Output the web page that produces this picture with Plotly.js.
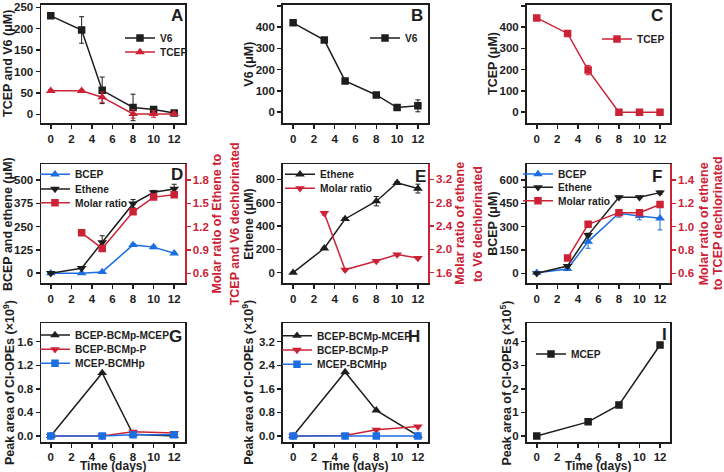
<!DOCTYPE html>
<html>
<head>
<meta charset="utf-8">
<script src="https://cdn.plot.ly/plotly-3.0.1.min.js"></script>
<style>
  html, body { margin: 0; padding: 0; background: #fff; }
  #chart { width: 724px; height: 472px; }
</style>
</head>
<body>
<div id="chart"></div>
<script>
// ---- sampling days ----
const daysAll = [0, 3, 5, 8, 10, 12];
const daysRatio = [3, 5, 8, 10, 12];
const daysOpe = [0, 5, 8, 12];
const dayTicks = [0, 2, 4, 6, 8, 10, 12];

// ---- A: TCEP + V6 co-culture (µM) ----
const aV6 = [230, 197, 56, 16, 11, 3];
const aV6Err = [4, 31, 31, 31, 6, 4];
const aTCEP = [55, 55, 40, 1, 1, 1];
const aTCEPErr = [3, 3, 12, 10, 8, 4];

// ---- B: V6 alone (µM) ----
const bV6 = [420, 339, 147, 81, 22, 30];
const bV6Err = [8, 8, 10, 10, 12, 28];

// ---- C: TCEP alone (µM) ----
const cTCEP = [443, 370, 198, 0, 0, 0];
const cTCEPErr = [10, 8, 22, 3, 3, 3];

// ---- D: products of the co-culture ----
const dBCEP = [0, 0, 7, 152, 140, 107];
const dBCEPErr = [3, 3, 3, 8, 8, 6];
const dEthene = [0, 27, 166, 373, 434, 452];
const dEtheneErr = [5, 5, 35, 22, 10, 25];
const dRatio = [1.12, 0.92, 1.39, 1.58, 1.61];
const dRatioErr = [0.02, 0.02, 0.02, 0.02, 0.02];

// ---- E: products of V6 ----
const eEthene = [0, 209, 460, 612, 770, 720];
const eEtheneErr = [5, 10, 12, 40, 10, 38];
const eRatio = [2.62, 1.65, 1.80, 1.91, 1.85];
const eRatioErr = [0.03, 0.02, 0.02, 0.02, 0.02];

// ---- F: products of TCEP ----
const fBCEP = [4, 28, 204, 386, 369, 354];
const fBCEPErr = [3, 5, 43, 25, 25, 75];
const fEthene = [0, 47, 246, 489, 489, 519];
const fEtheneErr = [5, 6, 12, 8, 8, 10];
const fRatio = [0.73, 1.02, 1.12, 1.12, 1.19];
const fRatioErr = [0.02, 0.02, 0.02, 0.02, 0.02];

// ---- G, H: Cl-OPE intermediates (peak area ×10^9) ----
const gMCEP = [0, 1.07, 0.03, 0.0];
const gP = [0, 0.0, 0.07, 0.05];
const gHp = [0, 0, 0.02, 0.02];
const hMCEP = [0, 2.17, 0.87, 0.01];
const hP = [0, 0.02, 0.21, 0.32];
const hHp = [0, 0, 0, 0];

// ---- I: MCEP (peak area ×10^5) ----
const iMCEP = [0, 0.6, 1.32, 3.86];

// ---- styling ----
const FONT = 'Liberation Sans, Arial, Helvetica, sans-serif';
const INK = '#1e1e1e';
const RED = '#cc2236';
const BLUE = '#1c6fe3';
const W = 724, H = 472;

// panel frames in px: columns (left, right), rows (top, bottom)
const colPx = [[41, 185], [282.7, 428.3], [526.5, 670.3]];
const rowPx = [[4.7, 123.3], [164.3, 283.3], [323.3, 442.3]];
const xDom = c => [colPx[c][0] / W, colPx[c][1] / W];
const yDom = r => [1 - rowPx[r][1] / H, 1 - rowPx[r][0] / H];

const tickFont = (color) => ({ family: FONT, size: 11.5, color: color || INK, weight: 'bold' });
const titleFont = (color, size) => ({ family: FONT, size: size || 12.5, color: color || INK, weight: 'bold' });

function axisBase(extra) {
  return Object.assign({
    showline: true, linecolor: INK, linewidth: 1.5, mirror: true,
    ticks: 'outside', ticklen: 4, tickwidth: 1.5, tickcolor: INK,
    showgrid: false, zeroline: false, fixedrange: true,
    tickfont: tickFont()
  }, extra);
}

const layout = {
  width: W, height: H,
  margin: { l: 0, r: 0, t: 0, b: 0 },
  paper_bgcolor: '#fff', plot_bgcolor: '#fff',
  font: { family: FONT, color: INK },
  showlegend: true,
  annotations: []
};

// caption placed with its centre at (px, py); angle -90 for vertical captions
function caption(text, px, py, color, angle, size) {
  layout.annotations.push({
    text: text, xref: 'paper', yref: 'paper', x: px / W, y: 1 - py / H,
    xanchor: 'center', yanchor: 'middle', textangle: angle || 0, showarrow: false,
    borderpad: 0, font: titleFont(color, size)
  });
}

// panel setup: y ranges, tick steps, titles with their centre x (px)
const panels = [
  { range: [-21, 256], dtick: 50, title: 'TCEP and V6 (μM)', tx: 8, xr: [-0.95, 13.05] },
  { range: [-52, 505], dtick: 100, title: 'V6 (μM)', tx: 248.7 },
  { range: [-52, 505], dtick: 100, title: 'TCEP (μM)', tx: 493 },
  { range: [-54, 584], dtick: 125, title: 'BCEP and ethene (μM)', tx: 8.3, xr: [-0.95, 13.05], mirrorY: false },
  { range: [-91, 928], dtick: 200, title: 'Ethene (μM)', tx: 249, mirrorY: false },
  { range: [-64, 701], dtick: 150, title: 'BCEP (μM)', tx: 493, mirrorY: false },
  { range: [-0.107, 1.912], dtick: 0.4, fmt: '.1f', title: 'Peak area of Cl-OPEs (×10<sup>9</sup>)', tx: 8.3, xr: [-0.95, 13.05] },
  { range: [-0.214, 3.824], dtick: 0.8, fmt: '.1f', title: 'Peak area of Cl-OPEs (×10<sup>9</sup>)', tx: 248 },
  { range: [-0.267, 4.78], dtick: 1, title: 'Peak area of Cl-OPEs (×10<sup>5</sup>)', tx: 505.7 }
];

panels.forEach((p, i) => {
  const n = i + 1;
  const c = i % 3, r = Math.floor(i / 3);
  const xKey = n === 1 ? 'xaxis' : 'xaxis' + n;
  const yKey = n === 1 ? 'yaxis' : 'yaxis' + n;
  const yId = n === 1 ? 'y' : 'y' + n;
  const xId = n === 1 ? 'x' : 'x' + n;
  layout[xKey] = axisBase({
    domain: xDom(c), anchor: yId, range: p.xr || [-1, 13],
    tickmode: 'array', tickvals: dayTicks,
    ticklabelstandoff: r === 2 ? -1 : 0
  });
  const ya = axisBase({
    domain: yDom(r), anchor: xId, range: p.range,
    tick0: 0, dtick: p.dtick
  });
  if (p.fmt) ya.tickformat = p.fmt;
  if (p.mirrorY === false) ya.mirror = false;
  layout[yKey] = ya;
  caption(p.title, p.tx, (rowPx[r][0] + rowPx[r][1]) / 2, INK, -90);
  if (r === 2) caption('Time (days)', (colPx[c][0] + colPx[c][1]) / 2 - 0.5, 466.3, INK, 0, 12);
});

// red right-hand axes for the molar ratios (D, E, F); each caption has two lines
const ratioAxes = [
  { key: 'yaxis10', over: 'y4', anchor: 'x4', range: [0.471, 2.002], tick0: 0.6, dtick: 0.3,
    lines: ['Molar ratio of Ethene to', 'TCEP and V6 dechlorinated'], tx: [216.7, 234.5] },
  { key: 'yaxis11', over: 'y5', anchor: 'x5', range: [1.418, 3.457], tick0: 1.6, dtick: 0.4,
    lines: ['Molar ratio of ethene', 'to V6 dechlorinated'], tx: [460, 477.3] },
  { key: 'yaxis12', over: 'y6', anchor: 'x6', range: [0.514, 1.535], tick0: 0.6, dtick: 0.2,
    lines: ['Molar ratio of ethene', 'to TCEP dechlorinated'], tx: [703.5, 717.5] }
];
ratioAxes.forEach(a => {
  layout[a.key] = axisBase({
    overlaying: a.over, anchor: a.anchor, side: 'right', mirror: false,
    range: a.range, tick0: a.tick0, dtick: a.dtick, tickformat: '.1f',
    linecolor: RED, tickcolor: RED, tickfont: tickFont(RED)
  });
  const cy = (rowPx[1][0] + rowPx[1][1]) / 2;
  a.lines.forEach((t, k) => caption(t, a.tx[k], cy, RED, -90));
});

// traces, each with its own small legend box
const traces = [];
let legendCount = 1;
// lx: legend box left px, ly: entry centre px
function addSeries(name, x, y, err, color, symbol, xa, ya, lx, ly) {
  legendCount += 1;
  const lid = 'legend' + legendCount;
  layout[lid] = {
    x: lx / W, y: 1 - ly / H, xanchor: 'left', yanchor: 'middle',
    bgcolor: 'rgba(0,0,0,0)', borderwidth: 0,
    font: { family: FONT, size: 10.2, color: INK, weight: 'bold' }
  };
  traces.push({
    type: 'scatter', mode: 'lines+markers', name: name,
    x: x, y: y, xaxis: xa, yaxis: ya, legend: lid,
    line: { color: color, width: 1.5 },
    marker: { color: color, symbol: symbol, size: symbol === 'square' ? 7.5 : 8.5, line: { width: 0 } },
    error_y: err ? { type: 'data', array: err, color: color, thickness: 1, width: 2.5 } : { visible: false }
  });
}

// A
addSeries('V6', daysAll, aV6, aV6Err, INK, 'square', 'x', 'y', 120, 38);
addSeries('TCEP', daysAll, aTCEP, aTCEPErr, RED, 'triangle-up', 'x', 'y', 120, 52);
// B
addSeries('V6', daysAll, bV6, bV6Err, INK, 'square', 'x2', 'y2', 365, 38);
// C
addSeries('TCEP', daysAll, cTCEP, cTCEPErr, RED, 'square', 'x3', 'y3', 597, 39);
// D
addSeries('BCEP', daysAll, dBCEP, dBCEPErr, BLUE, 'triangle-up', 'x4', 'y4', 35, 174.3);
addSeries('Ethene', daysAll, dEthene, dEtheneErr, INK, 'triangle-down', 'x4', 'y4', 35, 189);
addSeries('Molar ratio', daysRatio, dRatio, dRatioErr, RED, 'square', 'x4', 'y10', 35, 202.7);
// E
addSeries('Ethene', daysAll, eEthene, eEtheneErr, INK, 'triangle-up', 'x5', 'y5', 280, 174.3);
addSeries('Molar ratio', daysRatio, eRatio, eRatioErr, RED, 'triangle-down', 'x5', 'y11', 280, 188.3);
// F
addSeries('BCEP', daysAll, fBCEP, fBCEPErr, BLUE, 'triangle-up', 'x6', 'y6', 518, 174);
addSeries('Ethene', daysAll, fEthene, fEtheneErr, INK, 'triangle-down', 'x6', 'y6', 518, 187.3);
addSeries('Molar ratio', daysRatio, fRatio, fRatioErr, RED, 'square', 'x6', 'y12', 518, 200.7);
// G
addSeries('BCEP-BCMp-MCEP', daysOpe, gMCEP, null, INK, 'triangle-up', 'x7', 'y7', 35, 335);
addSeries('BCEP-BCMp-P', daysOpe, gP, null, RED, 'triangle-down', 'x7', 'y7', 35, 349.3);
addSeries('MCEP-BCMHp', daysOpe, gHp, null, BLUE, 'square', 'x7', 'y7', 35, 363.3);
// H
addSeries('BCEP-BCMp-MCEP', daysOpe, hMCEP, null, INK, 'triangle-up', 'x8', 'y8', 277, 335.7);
addSeries('BCEP-BCMp-P', daysOpe, hP, null, RED, 'triangle-down', 'x8', 'y8', 277, 350);
addSeries('MCEP-BCMHp', daysOpe, hHp, null, BLUE, 'square', 'x8', 'y8', 277, 364.3);
// I
addSeries('MCEP', daysOpe, iMCEP, null, INK, 'square', 'x9', 'y9', 531, 354);

// panel letters (right edge px, centre px)
const letters = [['A', 185, 15.5], ['B', 425.5, 15], ['C', 664.5, 15], ['D', 184.8, 174.5],
  ['E', 427.8, 176], ['F', 663.8, 176], ['G', 183.8, 336], ['H', 422.2, 336], ['I', 668.8, 334]];
letters.forEach(([t, px, py]) => {
  layout.annotations.push({
    text: t, xref: 'paper', yref: 'paper', x: px / W, y: 1 - py / H,
    xanchor: 'right', yanchor: 'middle', showarrow: false,
    font: { family: FONT, size: 17, color: INK, weight: 'bold' }
  });
});

Plotly.newPlot('chart', traces, layout, { displayModeBar: false, staticPlot: true });
</script>
</body>
</html>
